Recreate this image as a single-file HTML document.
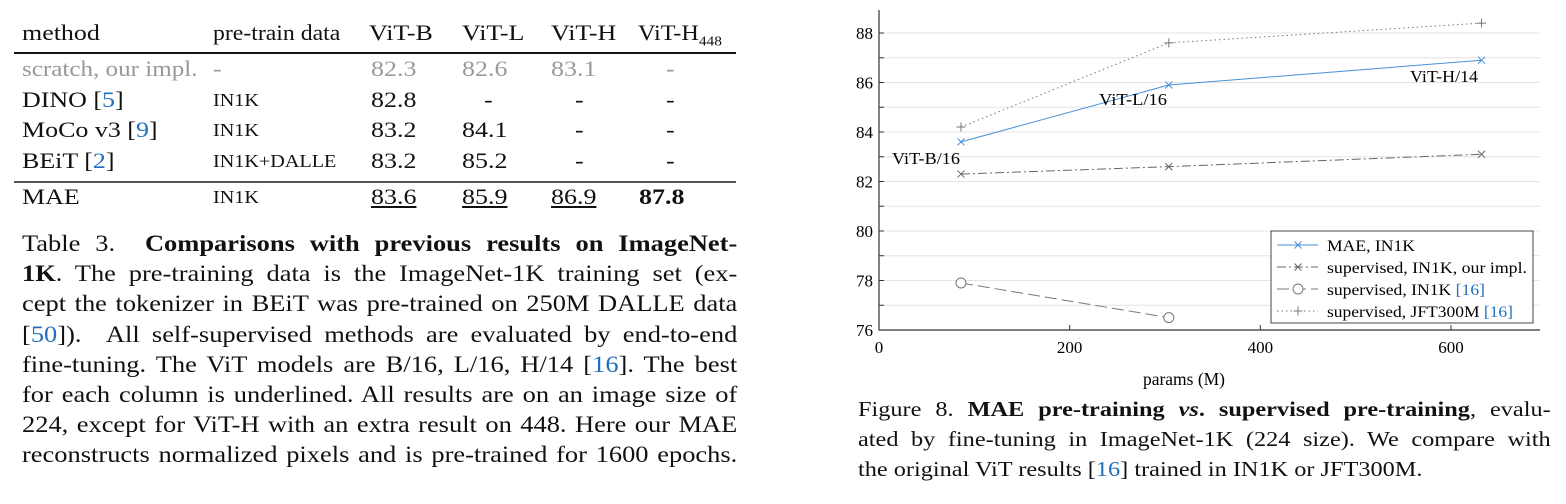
<!DOCTYPE html>
<html><head><meta charset="utf-8">
<style>
body{margin:0;width:1566px;height:504px;background:#fff;position:relative;overflow:hidden;font-family:"Liberation Serif",serif;color:#111}
.abs{position:absolute}
.cap div{text-align:justify;text-align-last:justify;white-space:nowrap;height:30.2px;line-height:30.2px}
.blue{color:#1f6fc0}
.u{text-decoration:underline}
.row{position:absolute;width:714px;height:30px}
.row span{position:absolute;display:inline-block;transform:scaleX(1.18);transform-origin:left center;white-space:nowrap}
.row span.d{font-size:18px;top:3px;transform:scaleX(1.12)}
</style></head><body>
<div class="abs" style="left:22px;top:14px;width:714px;font-size:22px">
<div class="row" style="top:6px">
 <span style="left:0">method</span>
 <span style="left:191px;transform:scaleX(1.08)">pre-train data</span>
 <span style="left:347px">ViT-B</span>
 <span style="left:440px">ViT-L</span>
 <span style="left:529px">ViT-H</span>
 <span style="left:616px;transform:scaleX(1.1)">ViT-H<sub style="font-size:14px">448</sub></span>
</div>
<div class="abs" style="left:-8px;top:38px;width:722px;height:2px;background:#111"></div>
<div class="abs" style="left:0;top:42px;width:714px">
 <div class="row" style="top:0;color:#999"><span style="left:0;transform:scaleX(1.14)">scratch, our impl.</span><span style="left:191px">-</span><span style="left:349px">82.3</span><span style="left:440px">82.6</span><span style="left:529px">83.1</span><span style="left:644px">-</span></div>
 <div class="row" style="top:31px"><span style="left:0">DINO [<span class="blue" style="position:static;transform:none">5</span>]</span><span class="d" style="left:191px">IN1K</span><span style="left:349px">82.8</span><span style="left:462px">-</span><span style="left:553px">-</span><span style="left:644px">-</span></div>
 <div class="row" style="top:61px"><span style="left:0">MoCo v3 [<span class="blue" style="position:static;transform:none">9</span>]</span><span class="d" style="left:191px">IN1K</span><span style="left:349px">83.2</span><span style="left:440px">84.1</span><span style="left:553px">-</span><span style="left:644px">-</span></div>
 <div class="row" style="top:92px"><span style="left:0">BEiT [<span class="blue" style="position:static;transform:none">2</span>]</span><span class="d" style="left:191px">IN1K+DALLE</span><span style="left:349px">83.2</span><span style="left:440px">85.2</span><span style="left:553px">-</span><span style="left:644px">-</span></div>
</div>
<div class="abs" style="left:-8px;top:167px;width:722px;height:1.5px;background:#555"></div>
<div class="row" style="top:170px"><span style="left:0">MAE</span><span class="d" style="left:191px">IN1K</span><span class="u" style="left:349px">83.6</span><span class="u" style="left:440px">85.9</span><span class="u" style="left:529px">86.9</span><span style="left:617px;font-weight:bold">87.8</span></div>
</div>
<div class="abs cap" style="left:22px;top:229px;width:622px;font-size:23px;transform:scaleX(1.15);transform-origin:left top">
<div>Table 3. &nbsp;<b>Comparisons with previous results on ImageNet-</b></div>
<div><b>1K</b>. The pre-training data is the ImageNet-1K training set (ex-</div>
<div>cept the tokenizer in BEiT was pre-trained on 250M DALLE data</div>
<div>[<span class="blue">50</span>]). &nbsp;All self-supervised methods are evaluated by end-to-end</div>
<div>fine-tuning. The ViT models are B/16, L/16, H/14 [<span class="blue">16</span>]. The best</div>
<div>for each column is underlined. All results are on an image size of</div>
<div>224, except for ViT-H with an extra result on 448. Here our MAE</div>
<div>reconstructs normalized pixels and is pre-trained for 1600 epochs.</div>
</div>

<svg class="abs" style="left:0;top:0" width="1566" height="504" id="chart"></svg>

<div class="abs cap" style="left:858px;top:394px;width:613px;font-size:21.5px;transform:scaleX(1.13);transform-origin:left top">
<div>Figure 8. <b>MAE pre-training <i>vs</i>. supervised pre-training</b>, evalu-</div>
<div>ated by fine-tuning in ImageNet-1K (224 size). We compare with</div>
<div style="text-align-last:left">the original ViT results [<span class="blue">16</span>] trained in IN1K or JFT300M.</div>
</div>

<script>
const xTicks=[0,200,400,600];
const yTicks=[76,78,80,82,84,86,88];
const params3=[86,304,632];
const params2=[86,304];
const maeVals=[83.6,85.9,86.9];
const supOurs=[82.3,82.6,83.1];
const supIn1k=[77.9,76.5];
const supJft=[84.2,87.6,88.4];
const annoLabels=["ViT-B/16","ViT-L/16","ViT-H/14"];

const NS="http://www.w3.org/2000/svg";
const svg=document.getElementById('chart');
const X0=879,XS=572/600,Y0=330,YS=24.75;
const xs=v=>X0+v*XS, ys=v=>Y0-(v-76)*YS;
function mk(t,a,p){const e=document.createElementNS(NS,t);for(const k in a)e.setAttribute(k,a[k]);(p||svg).appendChild(e);return e;}
for(let v=76;v<=88;v++){
 const g=mk('line',{x1:X0,x2:1540,y1:ys(v),y2:ys(v),stroke:'#e4e4e4','stroke-width':1});
 
 
 mk('line',{x1:X0,x2:X0+5,y1:ys(v),y2:ys(v),stroke:'#333','stroke-width':1});
}
const ax=mk('path',{d:`M${X0} 10 V${Y0} H1540`,fill:'none',stroke:'#333','stroke-width':1.2});


yTicks.forEach(v=>{const t=mk('text',{x:X0-6,y:ys(v)+6,'text-anchor':'end','font-size':17,'font-family':'Liberation Serif'});t.textContent=v;
 });
xTicks.forEach(v=>{mk('line',{x1:xs(v),x2:xs(v),y1:Y0,y2:Y0-5,stroke:'#333'});
 const t=mk('text',{x:xs(v),y:Y0+23,'text-anchor':'middle','font-size':17,'font-family':'Liberation Serif'});t.textContent=v;
 });
const xl=mk('text',{x:1143,y:385,'font-size':18,'font-family':'Liberation Serif',textLength:82,lengthAdjust:'spacingAndGlyphs'});xl.textContent='params (M)';


function marker(type,x,y,col){
 if(type==='x'){mk('path',{d:`M${x-3.5} ${y-3.5}L${x+3.5} ${y+3.5}M${x-3.5} ${y+3.5}L${x+3.5} ${y-3.5}`,stroke:col,'stroke-width':1});}
 else if(type==='+'){mk('path',{d:`M${x-4.5} ${y}H${x+4.5}M${x} ${y-4.5}V${y+4.5}`,stroke:col,'stroke-width':1});}
 else mk('circle',{cx:x,cy:y,r:5,fill:'#fff',stroke:col,'stroke-width':1});
}
function series(name,xv,yv,col,dash,m){
 const pts=xv.map((x,i)=>xs(x)+','+ys(yv[i])).join(' ');
 const l=mk('polyline',{points:pts,fill:'none',stroke:col,'stroke-width':1,'stroke-dasharray':dash});
 
 
 xv.forEach((x,i)=>marker(m,xs(x),ys(yv[i]),col));
}
series('jft-line',params3,supJft,'#777','1.5 3','+');
series('sup-ours-line',params3,supOurs,'#666','9 3 2 3','x');
series('sup-in1k-line',params2,supIn1k,'#777','12 5','o');
series('mae-line',params3,maeVals,'#4a90d9','','x');
const ann=[[892,164],[1099,105],[1410,82]];
annoLabels.forEach((s,i)=>{const t=mk('text',{x:ann[i][0],y:ann[i][1],'font-size':17,'font-family':'Liberation Serif',textLength:68,lengthAdjust:'spacingAndGlyphs'});t.textContent=s;
 });
const lg=mk('g',{});


mk('rect',{x:1271,y:231,width:262,height:92,fill:'#fff',stroke:'#444','stroke-width':1},lg);
const le=[['MAE, IN1K','#4a90d9','','x',88],['supervised, IN1K, our impl.','#666','9 3 2 3','x',200],['supervised, IN1K ','#777','12 5','o',158],['supervised, JFT300M ','#777','1.5 3','+',186]];
le.forEach((e,i)=>{const y=245+i*22;
 mk('line',{x1:1277,x2:1318,y1:y,y2:y,stroke:e[1],'stroke-dasharray':e[2]},lg);
 marker(e[3],1298,y,e[1]);
 const t=mk('text',{x:1327,y:y+6,'font-size':16,'font-family':'Liberation Serif',textLength:e[4],lengthAdjust:'spacingAndGlyphs'},lg);
 t.textContent=e[0];
 
 if(i>=2){const s=mk('tspan',{fill:'#1f6fc0'},t);s.textContent='[16]';}
});
</script>
</body></html>
